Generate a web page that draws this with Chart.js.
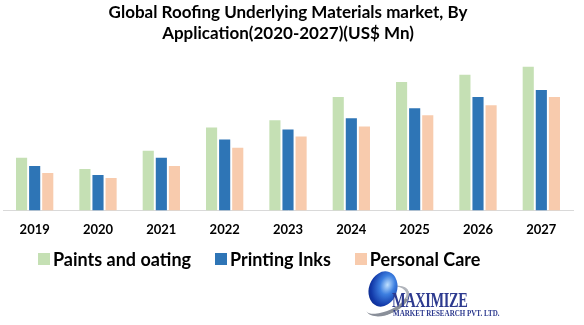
<!DOCTYPE html>
<html>
<head>
<meta charset="utf-8">
<script src="https://cdn.jsdelivr.net/npm/chart.js@4.4.1/dist/chart.umd.min.js"></script>
<style>
  html, body { margin: 0; padding: 0; background: #fff; }
  #wrap { position: relative; width: 584px; height: 325px; }
  #legend { position: absolute; left: 38px; top: 248px; display: flex; font: bold 18px Lato, sans-serif; color: #000; white-space: nowrap; }
  #legend .item { display: flex; align-items: center; margin-right: 24px; }
  #legend .box { width: 12px; height: 12px; margin-right: 3px; }
  #logo .globe { position: absolute; left: 369px; top: 271px; width: 28px; height: 36px; border-radius: 50%;
    background: radial-gradient(ellipse at 60% 35%, #bfe0ff 0%, #3d7fe0 30%, #1238a8 65%, #061a66 100%); transform: rotate(20deg); }
  #logo .swoosh { position: absolute; left: 364px; top: 288px; width: 44px; height: 22px; border-radius: 50%;
    border-bottom: 4px solid #8a8f99; border-right: 3px solid #b0b4bb; transform: rotate(-25deg); }
  #logo .t1 { position: absolute; left: 392px; top: 289px; font: bold 20px "Liberation Serif", serif; color: #2d3a8f;
    transform: scaleX(0.72); transform-origin: left top; letter-spacing: -0.5px; }
  #logo .t2 { position: absolute; left: 393px; top: 308px; font: bold 9px "Liberation Serif", serif; color: #2d3a8f;
    transform: scaleX(0.78); transform-origin: left top; white-space: nowrap; }
</style>
</head>
<body>
<div id="wrap">
  <canvas id="myChart" width="584" height="325"></canvas>
  <div id="legend"></div>
  <div id="logo">
    <div class="swoosh"></div>
    <div class="globe"></div>
    <div class="t1">MAXIMIZE</div>
    <div class="t2">MARKET RESEARCH PVT. LTD.</div>
  </div>
</div>
<script>
const years = ['2019', '2020', '2021', '2022', '2023', '2024', '2025', '2026', '2027'];
const paintsCoating = [52, 41, 59, 82, 89, 112, 127, 134, 142];
const printingInks = [44, 35, 52, 70, 80, 91, 101, 112, 119];
const personalCare = [37, 32, 44, 62, 73, 83, 94, 104, 112];
const seriesNames = ['Paints and oating', 'Printing Inks', 'Personal Care'];
const seriesColors = ['#c5e0b4', '#2e75b6', '#f8cbad'];
const titleLines = ['Global Roofing Underlying Materials market, By', 'Application(2020-2027)(US$ Mn)'];

const datasets = [paintsCoating, printingInks, personalCare].map((d, i) => ({
    label: seriesNames[i],
    data: d,
    backgroundColor: seriesColors[i],
    borderWidth: 0,
    categoryPercentage: 0.62,
    barPercentage: 0.85
}));

const ctx = document.getElementById('myChart');
new Chart(ctx, {
    type: 'bar',
    data: { labels: years, datasets: datasets },
    options: {
        responsive: false,
        animation: false,
        layout: { padding: { left: 3, right: 11, top: 0, bottom: 83 } },
        plugins: {
            legend: { display: false },
            tooltip: { enabled: false },
            title: {
                display: true,
                text: titleLines,
                color: '#000',
                font: { family: 'Lato', size: 17, weight: 'bold', lineHeight: 1.25 },
                padding: { top: 2, bottom: 4 }
            }
        },
        scales: {
            x: {
                grid: { display: false },
                border: { color: '#d9d9d9', width: 1 },
                ticks: { color: '#000', font: { family: 'Lato', size: 13, weight: 'bold' }, padding: 4 }
            },
            y: {
                display: false,
                min: 0,
                max: 160
            }
        }
    }
});

// legend built from the same series arrays
const legend = document.getElementById('legend');
seriesNames.forEach((name, i) => {
    const item = document.createElement('div');
    item.className = 'item';
    const box = document.createElement('span');
    box.className = 'box';
    box.style.background = seriesColors[i];
    const txt = document.createElement('span');
    txt.textContent = name;
    item.appendChild(box);
    item.appendChild(txt);
    legend.appendChild(item);
});
</script>
</body>
</html>
